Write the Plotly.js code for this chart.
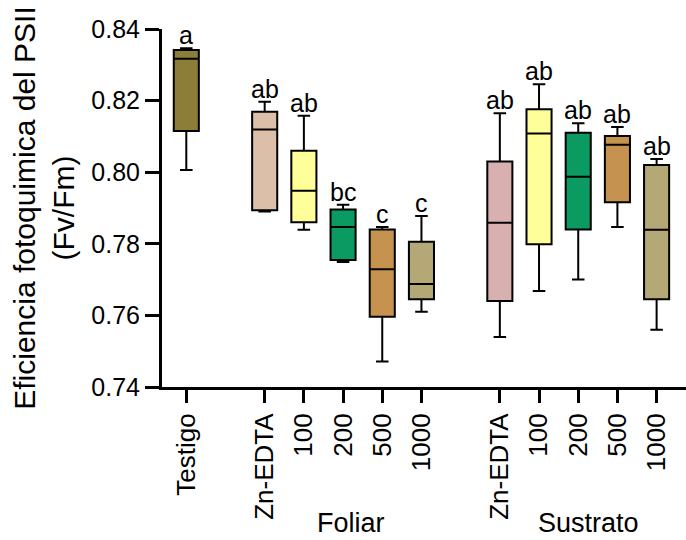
<!DOCTYPE html>
<html>
<head>
<meta charset="utf-8">
<script src="https://cdn.plot.ly/plotly-3.0.1.min.js"></script>
<style>html,body{margin:0;padding:0;background:#fff;}#chart{width:686px;height:540px;}</style>
</head>
<body>
<div id="chart"></div>
<script>
var positions = [0, 2, 3, 4, 5, 6, 8, 9, 10, 11, 12];
var tickLabels = ['Testigo', 'Zn-EDTA', '100', '200', '500', '1000', 'Zn-EDTA', '100', '200', '500', '1000'];
var lowerWhisker = [0.8006, 0.7890, 0.7839, 0.7749, 0.7471, 0.7610, 0.7540, 0.7668, 0.7700, 0.7847, 0.7560];
var q1Values     = [0.8115, 0.7894, 0.7860, 0.7755, 0.7596, 0.7645, 0.7640, 0.7799, 0.7840, 0.7916, 0.7645];
var medianValues = [0.8317, 0.8119, 0.7948, 0.7847, 0.7729, 0.7688, 0.7859, 0.8108, 0.7987, 0.8077, 0.7839];
var q3Values     = [0.8341, 0.8169, 0.8060, 0.7896, 0.7840, 0.7806, 0.8030, 0.8176, 0.8110, 0.8101, 0.8020];
var upperWhisker = [0.8346, 0.8197, 0.8158, 0.7909, 0.7847, 0.7878, 0.8165, 0.8246, 0.8137, 0.8126, 0.8037];
var letters = ['a', 'ab', 'ab', 'bc', 'c', 'c', 'ab', 'ab', 'ab', 'ab', 'ab'];
var groupNames = ['Foliar', 'Sustrato'];
var groupCenters = [4.2, 10.25];
var colors = ['#8C7D38', '#DBBFA8', '#FFFF99', '#0A9A62', '#C6924F', '#B4A877',
              '#D8B0B0', '#FFFF99', '#0A9A62', '#C6924F', '#B4A877'];

var FONT = 'Arial, "Liberation Sans", Helvetica, sans-serif';

var traces = positions.map(function (p, i) {
  return {
    type: 'box',
    x: [p],
    q1: [q1Values[i]],
    median: [medianValues[i]],
    q3: [q3Values[i]],
    lowerfence: [lowerWhisker[i]],
    upperfence: [upperWhisker[i]],
    width: 0.64,
    whiskerwidth: 0.5,
    fillcolor: colors[i],
    line: {color: '#000', width: 2},
    boxpoints: false,
    hoverinfo: 'skip',
    showlegend: false
  };
});

var annotations = positions.map(function (p, i) {
  return {
    x: p, y: upperWhisker[i], xref: 'x', yref: 'y',
    text: letters[i], showarrow: false,
    yanchor: 'bottom', yshift: -3,
    font: {family: FONT, size: 25, color: '#000'}
  };
});
groupNames.forEach(function (g, i) {
  annotations.push({
    x: groupCenters[i], y: (387 - 523) / (387 - 29), xref: 'x', yref: 'paper',
    text: g, showarrow: false, yanchor: 'middle',
    font: {family: FONT, size: 27, color: '#000'}
  });
});

var layout = {
  width: 686, height: 540,
  margin: {l: 162, r: 0, t: 29, b: 153, pad: 0},
  paper_bgcolor: '#fff', plot_bgcolor: '#fff',
  boxmode: 'overlay',
  font: {family: FONT, color: '#000'},
  xaxis: {
    range: [-0.62, 12.75],
    tickmode: 'array', tickvals: positions, ticktext: tickLabels,
    tickangle: -90,
    ticks: 'outside', ticklen: 13, tickwidth: 3, tickcolor: '#000',
    showline: true, linecolor: '#000', linewidth: 3,
    showgrid: false, zeroline: false,
    tickfont: {family: FONT, size: 26, color: '#000'},
    fixedrange: true
  },
  yaxis: {
    range: [0.74, 0.84],
    tickmode: 'array', tickvals: [0.74, 0.76, 0.78, 0.80, 0.82, 0.84],
    ticktext: ['0.74', '0.76', '0.78', '0.80', '0.82', '0.84'],
    ticks: 'outside', ticklen: 14, tickwidth: 3, tickcolor: '#000',
    showline: true, linecolor: '#000', linewidth: 3,
    showgrid: false, zeroline: false,
    tickfont: {family: FONT, size: 25, color: '#000'},
    title: {text: 'Eficiencia fotoquimica del PSII<br>(Fv/Fm)', font: {family: FONT, size: 30, color: '#000'}, standoff: 8},
    automargin: false,
    fixedrange: true
  },
  annotations: annotations
};

Plotly.newPlot('chart', traces, layout, {displayModeBar: false, staticPlot: true});
</script>
</body>
</html>
